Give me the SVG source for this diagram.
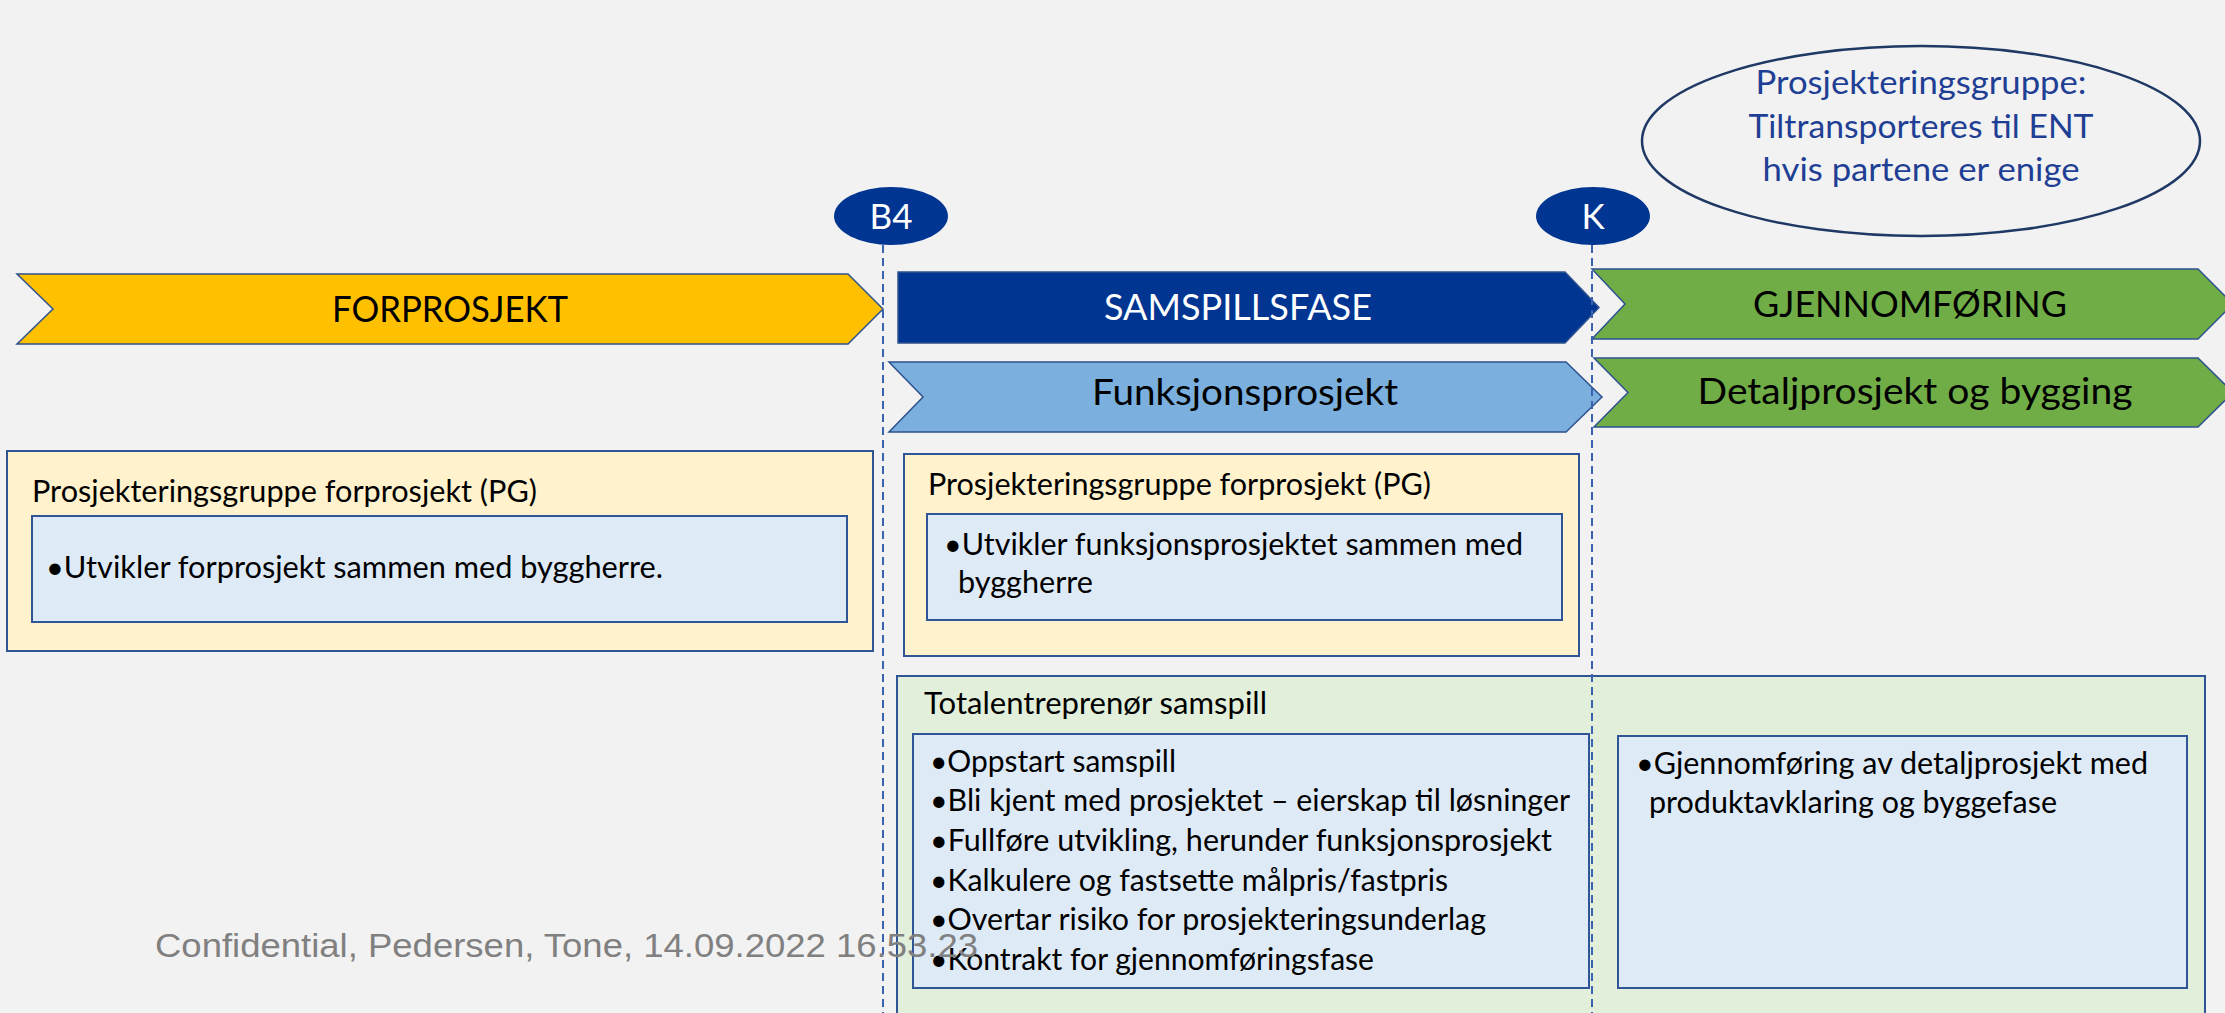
<svg xmlns="http://www.w3.org/2000/svg" width="2225" height="1013" viewBox="0 0 2225 1013">
<style>
  text { font-family: Lato, "Liberation Sans", sans-serif; }
  .chev { stroke: #2f528f; stroke-width: 1.5; }
  .ct { font-size: 37px; text-anchor: middle; fill: #000; }
  .ms { fill: #003591; }
  .mt { font-size: 35px; text-anchor: middle; fill: #ffffff; }
  .yb { fill: #fff2cc; stroke: #2f5597; stroke-width: 2; }
  .gb { fill: #e2efda; stroke: #2f5597; stroke-width: 2; }
  .ib { fill: #deebf7; stroke: #2f5597; stroke-width: 2; }
  .bt { font-size: 30px; fill: #000; }
  .et { font-size: 33px; text-anchor: middle; fill: #1f3f94; }
  .dash { stroke: #3a62b0; stroke-width: 2; stroke-dasharray: 8 5; fill: none; }
  .wm { font-family: "Liberation Sans", Arial, sans-serif; font-size: 34px; fill: #808080; }
</style>
<rect x="0" y="0" width="2225" height="1013" fill="#f2f2f2"/>

<g id="forprosjekt">
  <path class="chev" d="M17,274 L848,274 L883,309 L848,344 L17,344 L53,309 Z" fill="#ffc000"/>
  <text class="ct" x="450" y="322" textLength="236" lengthAdjust="spacingAndGlyphs">FORPROSJEKT</text>
</g>
<g id="samspillsfase">
  <path class="chev" d="M898,272 L1565,272 L1599,307.5 L1565,343 L898,343 Z" fill="#003591"/>
  <text class="ct" x="1238" y="320" fill="#ffffff" style="fill:#ffffff" textLength="268" lengthAdjust="spacingAndGlyphs">SAMSPILLSFASE</text>
</g>
<g id="funksjonsprosjekt">
  <path class="chev" d="M889,362 L1566,362 L1602,397 L1566,432 L889,432 L923,397 Z" fill="#7aafde"/>
  <text class="ct" x="1245" y="405" textLength="306" lengthAdjust="spacingAndGlyphs">Funksjonsprosjekt</text>
</g>
<g id="gjennomforing">
  <path class="chev" d="M1592,269 L2198,269 L2233,304 L2198,339 L1592,339 L1625,304 Z" fill="#70ad47"/>
  <text class="ct" x="1910" y="317" textLength="314" lengthAdjust="spacingAndGlyphs">GJENNOMFØRING</text>
</g>
<g id="detaljprosjekt">
  <path class="chev" d="M1594,358 L2198,358 L2233,392.5 L2198,427 L1594,427 L1628,392.5 Z" fill="#70ad47"/>
  <text class="ct" x="1915" y="404" textLength="435" lengthAdjust="spacingAndGlyphs">Detaljprosjekt og bygging</text>
</g>

<g id="milestone-b4">
  <ellipse class="ms" cx="891" cy="216" rx="57" ry="29"/>
  <text class="mt" x="891" y="229">B4</text>
</g>
<g id="milestone-k">
  <ellipse class="ms" cx="1593" cy="216" rx="57" ry="29"/>
  <text class="mt" x="1593" y="229">K</text>
</g>

<g id="note-ellipse">
  <ellipse cx="1921" cy="141" rx="279" ry="95" fill="#f2f2f2" stroke="#1f3864" stroke-width="2.5"/>
  <text class="et" x="1921" y="94" textLength="331" lengthAdjust="spacingAndGlyphs">Prosjekteringsgruppe:</text>
  <text class="et" x="1921" y="138" textLength="345" lengthAdjust="spacingAndGlyphs">Tiltransporteres til ENT</text>
  <text class="et" x="1921" y="181" textLength="317" lengthAdjust="spacingAndGlyphs">hvis partene er enige</text>
</g>

<g id="pg-forprosjekt">
  <rect class="yb" x="7" y="451" width="866" height="200"/>
  <text class="bt" x="32" y="502" textLength="505" lengthAdjust="spacingAndGlyphs">Prosjekteringsgruppe forprosjekt (PG)</text>
  <rect class="ib" x="32" y="516" width="815" height="106"/>
  <text class="bt" x="46" y="578" textLength="617" lengthAdjust="spacingAndGlyphs">•Utvikler forprosjekt sammen med byggherre.</text>
</g>

<g id="pg-funksjon">
  <rect class="yb" x="904" y="454" width="675" height="202"/>
  <text class="bt" x="928" y="495" textLength="503" lengthAdjust="spacingAndGlyphs">Prosjekteringsgruppe forprosjekt (PG)</text>
  <rect class="ib" x="927" y="514" width="635" height="106"/>
  <text class="bt" x="944" y="555" textLength="579" lengthAdjust="spacingAndGlyphs">•Utvikler funksjonsprosjektet sammen med</text>
  <text class="bt" x="958" y="593" textLength="135" lengthAdjust="spacingAndGlyphs">byggherre</text>
</g>

<g id="te-samspill">
  <rect class="gb" x="897" y="676" width="1308" height="400"/>
  <text class="bt" x="924" y="714" textLength="343" lengthAdjust="spacingAndGlyphs">Totalentreprenør samspill</text>
</g>
<g id="te-samspill-list">
  <rect class="ib" x="913" y="734" width="676" height="254"/>
  <text class="bt" x="930" y="772" textLength="246" lengthAdjust="spacingAndGlyphs">•Oppstart samspill</text>
  <text class="bt" x="930" y="811" textLength="640" lengthAdjust="spacingAndGlyphs">•Bli kjent med prosjektet – eierskap til løsninger</text>
  <text class="bt" x="930" y="851" textLength="622" lengthAdjust="spacingAndGlyphs">•Fullføre utvikling, herunder funksjonsprosjekt</text>
  <text class="bt" x="930" y="891" textLength="518" lengthAdjust="spacingAndGlyphs">•Kalkulere og fastsette målpris/fastpris</text>
  <text class="bt" x="930" y="930" textLength="556" lengthAdjust="spacingAndGlyphs">•Overtar risiko for prosjekteringsunderlag</text>
  <text class="bt" x="930" y="970" textLength="444" lengthAdjust="spacingAndGlyphs">•Kontrakt for gjennomføringsfase</text>
</g>
<g id="te-gjennomforing">
  <rect class="ib" x="1618" y="736" width="569" height="252"/>
  <text class="bt" x="1636" y="774" textLength="512" lengthAdjust="spacingAndGlyphs">•Gjennomføring av detaljprosjekt med</text>
  <text class="bt" x="1649" y="813" textLength="408" lengthAdjust="spacingAndGlyphs">produktavklaring og byggefase</text>
</g>

<g id="connectors">
  <line class="dash" x1="883" y1="245" x2="883" y2="1013"/>
  <line class="dash" x1="1592" y1="245" x2="1592" y2="1013"/>
</g>

<text class="wm" x="155" y="957" textLength="823" lengthAdjust="spacingAndGlyphs">Confidential, Pedersen, Tone, 14.09.2022 16.53.23</text>
</svg>
